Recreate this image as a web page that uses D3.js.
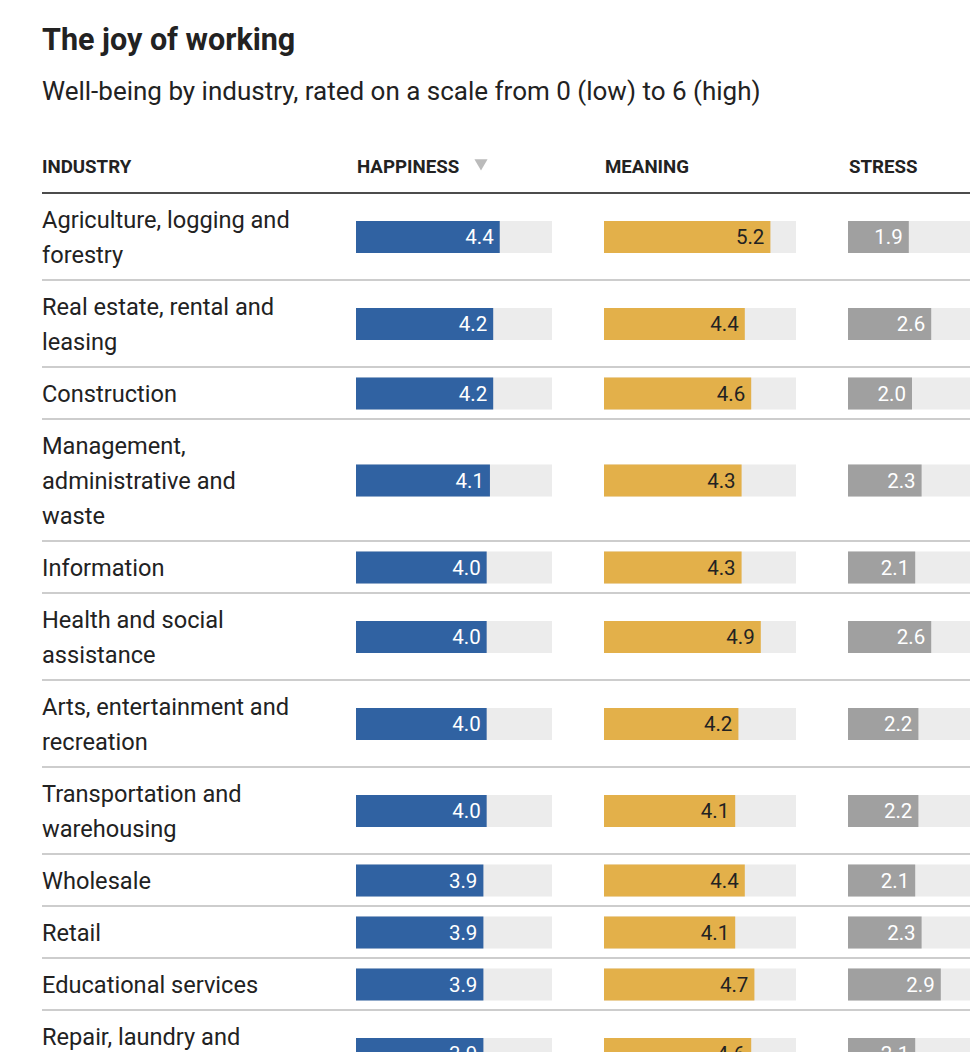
<!DOCTYPE html>
<html>
<head>
<meta charset="utf-8">
<script src="https://cdn.jsdelivr.net/npm/d3@7/dist/d3.min.js"></script>
<style>
  html, body { margin: 0; padding: 0; background: #fff; overflow: hidden; }
  svg { display: block; }
</style>
</head>
<body>
<svg id="chart" width="970" height="1052"></svg>
<script>
const industries = [
  "Agriculture, logging and forestry",
  "Real estate, rental and leasing",
  "Construction",
  "Management, administrative and waste",
  "Information",
  "Health and social assistance",
  "Arts, entertainment and recreation",
  "Transportation and warehousing",
  "Wholesale",
  "Retail",
  "Educational services",
  "Repair, laundry and other services"
];
const happiness = [4.4, 4.2, 4.2, 4.1, 4.0, 4.0, 4.0, 4.0, 3.9, 3.9, 3.9, 3.9];
const meaning   = [5.2, 4.4, 4.6, 4.3, 4.3, 4.9, 4.2, 4.1, 4.4, 4.1, 4.7, 4.6];
const stress    = [1.9, 2.6, 2.0, 2.3, 2.1, 2.6, 2.2, 2.2, 2.1, 2.3, 2.9, 2.1];
const columnLabels = ["INDUSTRY", "HAPPINESS", "MEANING", "STRESS"];
const scaleMax = 6;

const FONT = "Roboto, 'Liberation Sans', sans-serif";
const LABEL_SIZE = 23.6;
const svg = d3.select("#chart");

svg.append("text").attr("x", 42).attr("y", 50)
  .attr("font-family", FONT).attr("font-weight", 700).attr("font-size", 30.5)
  .attr("fill", "#222").text("The joy of working");
svg.append("text").attr("x", 42).attr("y", 100)
  .attr("font-family", FONT).attr("font-size", 26)
  .attr("fill", "#222").text("Well-being by industry, rated on a scale from 0 (low) to 6 (high)");

const cols = [
  { key: "happiness", values: happiness, x0: 356, w: 196, color: "#3062a2", text: "#fff" },
  { key: "meaning",   values: meaning,   x0: 604, w: 192, color: "#e3b04a", text: "#222" },
  { key: "stress",    values: stress,    x0: 848, w: 192, color: "#a0a0a0", text: "#fff" }
];
cols.forEach(c => { c.scale = d3.scaleLinear().domain([0, scaleMax]).range([0, c.w]); });

// header
const headerY = 173;
const HEAD_SIZE = 18.7;
svg.append("text").attr("x", 42).attr("y", headerY)
  .attr("font-family", FONT).attr("font-weight", 700).attr("font-size", HEAD_SIZE)
  .attr("fill", "#222").text(columnLabels[0]);
cols.forEach((c, i) => {
  svg.append("text").attr("x", c.x0 + 1).attr("y", headerY)
    .attr("font-family", FONT).attr("font-weight", 700).attr("font-size", HEAD_SIZE)
    .attr("fill", "#222").text(columnLabels[i + 1]);
});
// sort indicator
svg.append("path")
  .attr("d", d3.symbol().type(d3.symbolTriangle).size(75))
  .attr("transform", "translate(481,163) rotate(180)")
  .attr("fill", "#bbb");

svg.append("line").attr("x1", 42).attr("x2", 970).attr("y1", 193).attr("y2", 193)
  .attr("stroke", "#111").attr("stroke-width", 1.5);

// wrap labels
const maxLabelW = 254;
const LINE_H = 35;
const measure = svg.append("text").attr("font-family", FONT).attr("font-size", LABEL_SIZE).attr("visibility", "hidden");
function wrap(str) {
  const words = str.split(" ");
  const lines = [];
  let cur = "";
  words.forEach(w => {
    const test = cur ? cur + " " + w : w;
    measure.text(test);
    if (measure.node().getComputedTextLength() > maxLabelW && cur) {
      lines.push(cur); cur = w;
    } else cur = test;
  });
  if (cur) lines.push(cur);
  return lines;
}
const rows = industries.map((name, i) => ({ name, i, lines: wrap(name) }));
measure.remove();

let yTop = 193;
rows.forEach(r => {
  r.top = yTop;
  r.h = r.lines.length * LINE_H + 17;
  yTop += r.h;
});

const g = svg.selectAll("g.row").data(rows).join("g").attr("class", "row")
  .attr("transform", d => `translate(0,${d.top})`);

g.append("text")
  .attr("font-family", FONT).attr("font-size", LABEL_SIZE).attr("fill", "#222")
  .selectAll("tspan").data(d => d.lines).join("tspan")
  .attr("x", 42).attr("y", (d, k) => 35 + k * LINE_H).text(d => d);

const BAR_H = 32;
const fmt = d3.format(".1f");
cols.forEach(c => {
  g.append("rect")
    .attr("x", c.x0).attr("y", d => d.h / 2 - BAR_H / 2 + 0.5)
    .attr("width", c.w).attr("height", BAR_H).attr("fill", "#ececec");
  g.append("rect")
    .attr("x", c.x0).attr("y", d => d.h / 2 - BAR_H / 2 + 0.5)
    .attr("width", d => c.scale(c.values[d.i])).attr("height", BAR_H).attr("fill", c.color);
  g.append("text")
    .attr("x", d => c.x0 + c.scale(c.values[d.i]) - 6)
    .attr("y", d => d.h / 2 + 7.5)
    .attr("text-anchor", "end")
    .attr("font-family", FONT).attr("font-size", 20.5).attr("fill", c.text)
    .text(d => fmt(c.values[d.i]));
});

g.append("line").attr("x1", 42).attr("x2", 970)
  .attr("y1", d => d.h).attr("y2", d => d.h)
  .attr("stroke", "#bdbdbd").attr("stroke-width", 1.5);
</script>
</body>
</html>
